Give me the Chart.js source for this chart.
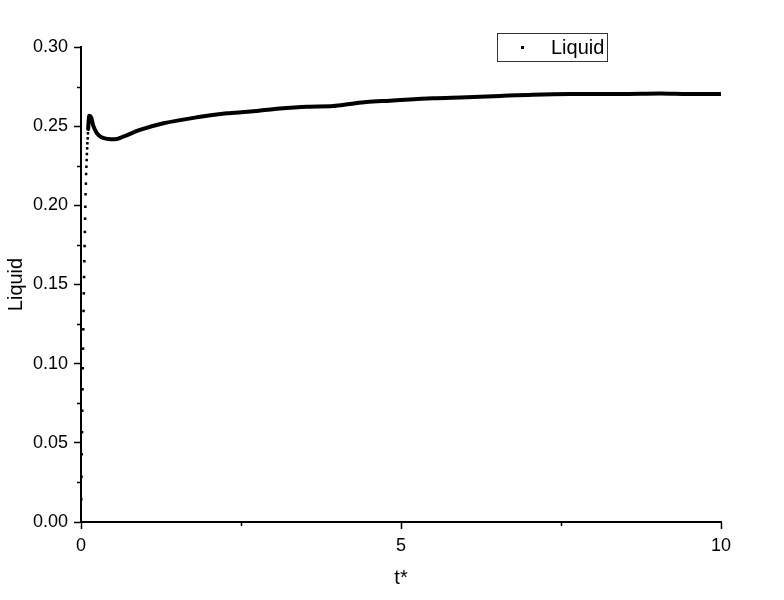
<!DOCTYPE html>
<html>
<head>
<meta charset="utf-8">
<script src="https://cdn.jsdelivr.net/npm/chart.js@4"></script>
<style>
  body { margin: 0; background: #fff; }
  #wrap { width: 784px; height: 600px; }
</style>
</head>
<body>
<div id="wrap"><canvas id="liquidChart"></canvas></div>
<script>
// early rise: separate dots
const riseT = [0, 0.004, 0.008, 0.012, 0.016, 0.020, 0.024, 0.028, 0.032, 0.036, 0.040,
    0.044, 0.048, 0.052, 0.056, 0.060, 0.064, 0.068, 0.072, 0.076, 0.080, 0.084,
    0.088, 0.092, 0.096, 0.100, 0.104, 0.108, 0.112, 0.116, 0.120, 0.124, 0.128];
const riseLiquid = [0, 0.0143, 0.0286, 0.0428, 0.0567, 0.0703, 0.0838, 0.0971, 0.1095, 0.1217, 0.1333,
    0.1444, 0.1547, 0.1647, 0.1743, 0.1832, 0.1916, 0.1991, 0.2070, 0.2137, 0.2198, 0.2244,
    0.2286, 0.2324, 0.2360, 0.2392, 0.2423, 0.2455, 0.2482, 0.2510, 0.2535, 0.2555, 0.2566];

// after the peak the dots merge into a solid line
const curveT = [0.16, 0.19, 0.25, 0.32, 0.42, 0.52, 0.66, 0.92, 1.29, 1.81, 2.28, 2.61, 3.0, 3.53,
    3.94, 4.2, 4.46, 4.83, 5.5, 6.03, 6.55, 7.06, 7.64, 8.42, 9.05, 9.5, 10.0];
const curveLiquid = [0.2555, 0.2505, 0.2455, 0.2430, 0.2419, 0.2417, 0.2434, 0.2476, 0.2518, 0.2556, 0.2581,
    0.2591, 0.2607, 0.2623, 0.2627, 0.2640, 0.2653, 0.2661, 0.2676, 0.2682, 0.2691, 0.2699,
    0.2703, 0.2703, 0.2706, 0.2703, 0.2703];

const xTicks = [0, 5, 10];
const xMinor = [2.5, 7.5];
const yTicks = [0, 0.05, 0.10, 0.15, 0.20, 0.25, 0.30];
const yMinor = [0.025, 0.075, 0.125, 0.175, 0.225, 0.275];
const seriesName = 'Liquid';

const FONT = 'Arial, "Liberation Sans", sans-serif';
const points = riseT.map((t, i) => ({ x: t, y: riseLiquid[i] }))
    .concat(curveT.map((t, i) => ({ x: t, y: curveLiquid[i] })));
const lineStart = riseT.length - 5;

// minor ticks + bordered legend
const extras = {
    id: 'extras',
    afterDraw(chart) {
        const ctx = chart.ctx;
        const xs = chart.scales.x, ys = chart.scales.y;
        const area = chart.chartArea;
        ctx.save();
        ctx.strokeStyle = '#000';
        ctx.lineWidth = 1.5;
        xMinor.forEach(v => {
            const px = Math.round(xs.getPixelForValue(v)) + 0.5;
            ctx.beginPath();
            ctx.moveTo(px, area.bottom);
            ctx.lineTo(px, area.bottom + 4);
            ctx.stroke();
        });
        yMinor.forEach(v => {
            const py = Math.round(ys.getPixelForValue(v)) + 0.5;
            ctx.beginPath();
            ctx.moveTo(area.left, py);
            ctx.lineTo(area.left - 4, py);
            ctx.stroke();
        });
        // legend
        ctx.lineWidth = 1;
        ctx.strokeStyle = '#333';
        ctx.strokeRect(497.5, 33.5, 110, 28);
        ctx.fillStyle = '#000';
        ctx.fillRect(521, 46, 3, 3);
        ctx.font = '20px ' + FONT;
        ctx.textBaseline = 'middle';
        ctx.fillText(seriesName, 551, 48);
        ctx.restore();
    }
};

new Chart(document.getElementById('liquidChart'), {
    type: 'scatter',
    data: {
        datasets: [{
            label: seriesName,
            data: points,
            showLine: true,
            borderColor: '#000',
            borderWidth: 4,
            borderJoinStyle: 'round',
            borderCapStyle: 'round',
            cubicInterpolationMode: 'monotone',
            backgroundColor: '#000',
            pointStyle: 'rect',
            pointRadius: ctx => ctx.dataIndex < lineStart ? 1.8 : 0,
            pointBorderWidth: 0,
            segment: {
                borderColor: ctx => ctx.p0DataIndex < lineStart ? 'rgba(0,0,0,0)' : '#000'
            }
        }]
    },
    options: {
        responsive: true,
        maintainAspectRatio: false,
        animation: false,
        layout: { padding: { top: 47, right: 63, left: 0, bottom: 0 } },
        plugins: { legend: { display: false }, tooltip: { enabled: false } },
        scales: {
            x: {
                type: 'linear',
                min: 0,
                max: 10,
                afterFit: s => { s.height = 78; },
                afterBuildTicks: s => { s.ticks = xTicks.map(v => ({ value: v })); },
                border: { color: '#000', width: 2 },
                grid: { drawOnChartArea: false, color: '#000', tickLength: 7, tickWidth: 1.5 },
                ticks: { color: '#000', padding: 6, maxRotation: 0, font: { family: FONT, size: 18 } },
                title: {
                    display: true, text: 't*', color: '#000',
                    font: { family: FONT, size: 20 }, padding: { top: 0, bottom: 10 }
                }
            },
            y: {
                type: 'linear',
                min: 0,
                max: 0.30,
                afterFit: s => { s.width = 81; },
                afterBuildTicks: s => { s.ticks = yTicks.map(v => ({ value: v })); },
                border: { color: '#000', width: 2 },
                grid: { drawOnChartArea: false, color: '#000', tickLength: 7, tickWidth: 1.5 },
                ticks: {
                    color: '#000', padding: 6,
                    font: { family: FONT, size: 18 },
                    callback: v => v.toFixed(2)
                },
                title: {
                    display: true, text: seriesName, color: '#000',
                    font: { family: FONT, size: 20 }, padding: { top: 4, bottom: 4 }
                }
            }
        }
    },
    plugins: [extras]
});
</script>
</body>
</html>
